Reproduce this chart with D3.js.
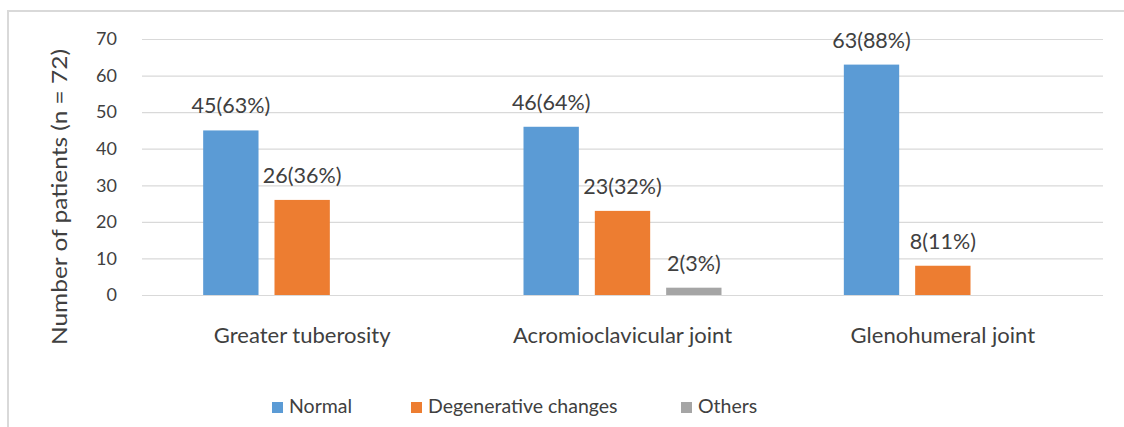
<!DOCTYPE html>
<html>
<head>
<meta charset="utf-8">
<script src="https://cdn.jsdelivr.net/npm/d3@7"></script>
<style>
  html, body { margin: 0; padding: 0; background: #fff; }
  svg { display: block; }
  text { font-family: Lato, "Open Sans", sans-serif; fill: #404040; }
</style>
</head>
<body>
<svg id="chart" width="1124" height="427"></svg>
<script>
// Joint categories along the x axis
const categories = ["Greater tuberosity", "Acromioclavicular joint", "Glenohumeral joint"];
// Series names shown in the legend
const seriesNames = ["Normal", "Degenerative changes", "Others"];
const seriesColors = ["#5b9bd5", "#ed7d31", "#a5a5a5"];
// Patient counts per series, one entry per category
const normalValues = [45, 46, 63];
const degenerativeValues = [26, 23, 8];
const otherValues = [0, 2, 0];
// Data labels above the bars (count with share of n = 72)
const normalLabels = ["45(63%)", "46(64%)", "63(88%)"];
const degenerativeLabels = ["26(36%)", "23(32%)", "8(11%)"];
const otherLabels = ["", "2(3%)", ""];
// Y axis ticks
const yTicks = [0, 10, 20, 30, 40, 50, 60, 70];
const yTitle = "Number of patients (n = 72)";

const seriesValues = [normalValues, degenerativeValues, otherValues];
const seriesLabels = [normalLabels, degenerativeLabels, otherLabels];

const svg = d3.select("#chart");

// Outer chart frame
svg.append("path")
  .attr("d", "M8,430 L8,11 L1130,11")
  .attr("fill", "none")
  .attr("stroke", "#d9d9d9")
  .attr("stroke-width", 2);

const plot = { left: 142, right: 1103, top: 39, bottom: 295 };

const x = d3.scaleBand().domain(categories).range([plot.left, plot.right]);
const groupWidth = 198;
const xs = d3.scaleBand()
  .domain(seriesNames)
  .range([(x.bandwidth() - groupWidth) / 2, (x.bandwidth() + groupWidth) / 2])
  .paddingInner(0.224)
  .paddingOuter(0);
const y = d3.scaleLinear().domain([0, 70]).range([plot.bottom, plot.top]);

// Gridlines and tick labels
const yAxis = svg.append("g")
  .attr("transform", `translate(${plot.left},0)`)
  .call(d3.axisLeft(y).tickValues(yTicks).tickSize(-(plot.right - plot.left)).tickPadding(25));
yAxis.select(".domain").remove();
yAxis.selectAll(".tick line").attr("stroke", "#d9d9d9").attr("stroke-width", 1.2);
yAxis.selectAll(".tick text")
  .style("font-family", "Lato, sans-serif")
  .style("font-size", "18px")
  .attr("fill", "#404040");

// Y axis title
svg.append("text")
  .attr("transform", `translate(67,${197}) rotate(-90)`)
  .attr("text-anchor", "middle")
  .attr("textLength", 296)
  .attr("lengthAdjust", "spacingAndGlyphs")
  .style("font-size", "21px")
  .attr("fill", "#404040")
  .text(yTitle);

// Bars and data labels
const rows = [];
seriesNames.forEach((s, si) => {
  categories.forEach((c, ci) => {
    rows.push({ series: s, si, category: c, value: seriesValues[si][ci], label: seriesLabels[si][ci] });
  });
});

const drawn = rows.filter(d => d.value > 0);

svg.append("g").selectAll("rect")
  .data(drawn)
  .join("rect")
  .attr("x", d => x(d.category) + xs(d.series))
  .attr("y", d => y(d.value))
  .attr("width", xs.bandwidth())
  .attr("height", d => y(0) - y(d.value))
  .attr("fill", d => seriesColors[d.si]);

svg.append("g").selectAll("text")
  .data(drawn.filter(d => d.label))
  .join("text")
  .attr("x", d => x(d.category) + xs(d.series) + xs.bandwidth() / 2)
  .attr("y", d => y(d.value) - 17)
  .attr("text-anchor", "middle")
  .style("font-size", "21.5px")
  .attr("fill", "#404040")
  .text(d => d.label);

// Category labels
svg.append("g").selectAll("text")
  .data(categories)
  .join("text")
  .attr("x", d => x(d) + x.bandwidth() / 2)
  .attr("y", 343)
  .attr("text-anchor", "middle")
  .style("font-size", "22px")
  .attr("fill", "#404040")
  .text(d => d);

// Legend
const legendX = [272, 411, 681];
const legend = svg.append("g").selectAll("g")
  .data(seriesNames)
  .join("g")
  .attr("transform", (d, i) => `translate(${legendX[i]},402)`);
legend.append("rect")
  .attr("width", 11).attr("height", 11)
  .attr("fill", (d, i) => seriesColors[i]);
legend.append("text")
  .attr("x", 17).attr("y", 11)
  .style("font-size", "19.5px")
  .attr("fill", "#404040")
  .text(d => d);
</script>
</body>
</html>
